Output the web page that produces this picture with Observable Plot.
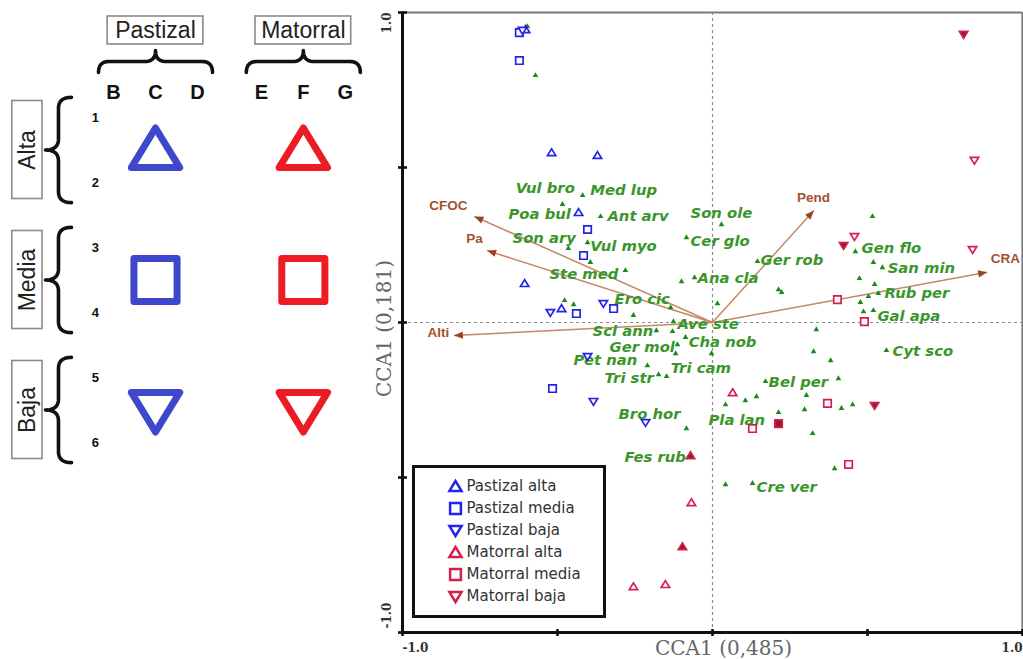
<!DOCTYPE html>
<html><head><meta charset="utf-8">
<script src="https://cdn.jsdelivr.net/npm/d3@7"></script>
<script src="https://cdn.jsdelivr.net/npm/@observablehq/plot@0.6"></script>
<style>
html,body{margin:0;padding:0;background:#fff;}
#wrap{position:relative;width:1023px;height:659px;overflow:hidden;}
#wrap > div, #wrap > svg{position:absolute;left:0;top:0;}
#legend{left:412px !important;top:465px !important;width:194px;height:153px;border:3px solid #111;box-sizing:border-box;background:#fff;}
</style></head><body><div id="wrap"></div>
<script>
// ---------- DATA ----------
// Left schematic
const habitats = ["Pastizal", "Matorral"];
const habitatColumns = [["B", "C", "D"], ["E", "F", "G"]];
const altitudes = ["Alta", "Media", "Baja"];
const altitudeRows = [[1, 2], [3, 4], [5, 6]];

// Sites (CCA1, CCA2); third value 1 = symbol drawn filled
const pastizalAlta = [[-0.519,0.548],[-0.371,0.539],[-0.606,0.126],[-0.487,0.045],[-0.432,0.355],[-0.603,0.945]];
const pastizalMedia = [[-0.623,0.935],[-0.623,0.845],[-0.403,0.300],[-0.416,0.216],[-0.439,0.029],[-0.319,0.045],[-0.516,-0.213]];
const pastizalBaja = [[-0.613,0.942],[-0.523,0.032],[-0.352,0.061],[-0.403,-0.110],[-0.384,-0.255],[-0.216,-0.323]];
const matorralAlta = [[-0.071,-0.429,1],[-0.068,-0.581],[-0.097,-0.723,1],[-0.255,-0.852],[-0.152,-0.845],[0.065,-0.226]];
const matorralMedia = [[0.403,0.074],[0.490,0.003],[0.371,-0.261],[0.213,-0.326,1],[0.129,-0.342],[0.439,-0.458]];
const matorralBaja = [[0.810,0.929,1],[0.845,0.523],[0.839,0.235],[0.458,0.277],[0.423,0.248,1],[0.523,-0.268,1]];

// Species scores
const speciesPoints = [[-0.597,0.955],[-0.571,0.797],[-0.484,0.381],[-0.419,0.410],[-0.361,0.342],[-0.465,0.239],
 [-0.403,0.258],[-0.394,0.194],[-0.281,0.168],[-0.477,0.071],[-0.448,0.058],[-0.255,0.023],[-0.135,0.048],
 [-0.084,0.274],[0.029,0.316],[-0.100,0.132],[-0.058,0.145],[0.016,0.061],[0.145,0.197],[0.213,0.106],[0.223,0.097],
 [-0.126,0.003],[-0.181,-0.026],[-0.129,-0.029],[-0.113,-0.071],[-0.087,-0.048],[-0.119,-0.100],[-0.003,-0.100],
 [-0.210,-0.139],[-0.174,-0.168],[-0.148,-0.174],[-0.084,-0.342],[0.042,-0.265],[0.042,-0.523],[0.129,-0.519],
 [0.106,-0.252],[0.142,-0.239],[0.171,-0.190],[0.213,-0.290],[0.303,-0.235],[0.297,-0.281],[0.323,-0.358],
 [0.335,-0.023],[0.326,-0.094],[0.381,-0.123],[0.406,-0.181],[0.416,-0.277],[0.452,-0.265],[0.394,-0.471],
 [0.561,-0.090],[0.516,0.342],[0.461,0.229],[0.519,0.194],[0.548,0.177],[0.474,0.142],[0.523,0.123],[0.503,0.084],
 [0.535,0.094],[0.477,0.065],[0.487,0.035],[0.519,0.039],[-0.071,-0.429],[0.213,-0.326],[0.423,0.248]];
const speciesLabels = [["Vul bro",-0.635,0.432],["Med lup",-0.394,0.426],["Poa bul",-0.658,0.348],["Ant arv",-0.339,0.342],
 ["Son ary",-0.645,0.271],["Vul myo",-0.394,0.245],["Ste med",-0.526,0.155],["Ero cic",-0.316,0.074],
 ["Son ole",-0.071,0.352],["Cer glo",-0.071,0.261],["Ger rob",0.155,0.200],["Ana cla",-0.048,0.142],
 ["Ave ste",-0.113,-0.006],["Scl ann",-0.387,-0.029],["Cha nob",-0.077,-0.065],["Ger mol",-0.332,-0.080],
 ["Pet nan",-0.448,-0.123],["Tri cam",-0.135,-0.148],["Tri str",-0.348,-0.181],["Bro hor",-0.303,-0.297],
 ["Pla lan",-0.013,-0.316],["Fes rub",-0.284,-0.435],["Bel per",0.181,-0.194],["Cre ver",0.142,-0.532],
 ["Gen flo",0.481,0.239],["San min",0.565,0.174],["Rub per",0.555,0.094],["Gal apa",0.532,0.019],["Cyt sco",0.581,-0.094]];

// Environmental vectors
const envNames = ["CFOC", "Pa", "Alti", "Pend", "CRA"];
const envX = [-0.768, -0.727, -0.834, 0.327, 0.886];
const envY = [0.342, 0.232, -0.042, 0.361, 0.162];
const envLabelX = [-0.852, -0.768, -0.884, 0.326, 0.945];
const envLabelY = [0.377, 0.271, -0.032, 0.403, 0.206];

// Axes
const axisTicks = [-1, -0.5, 0, 0.5, 1];
const endTicks = [-1, 1];
const endTickLabels = ["-1.0", "1.0"];
const xTitle = "CCA1 (0,485)";
const yTitle = "CCA1 (0,181)";
const legendLabels = ["Pastizal alta", "Pastizal media", "Pastizal baja", "Matorral alta", "Matorral media", "Matorral baja"];

// ---------- STYLE ----------
const blue = "#2323ea", crimson = "#d61e4e", darkFill = "#8e1c2c";
const bigBlue = "#3f48cc", bigRed = "#ed1c24";
const labelGreen = "#3a962a", dotGreen = "#178a17";
const vecLine = "#c48866", vecHead = "#9a4420", vecText = "#a4512f";

// ---------- SYMBOLS ----------
const rad = s => Math.sqrt(s / Math.PI);
const symUp = {draw(c, s){const r = rad(s); c.moveTo(0, -r); c.lineTo(r*1.1, r*0.8); c.lineTo(-r*1.1, r*0.8); c.closePath();}};
const symDown = {draw(c, s){const r = rad(s); c.moveTo(0, r); c.lineTo(r*1.1, -r*0.8); c.lineTo(-r*1.1, -r*0.8); c.closePath();}};
const symSquare = {draw(c, s){const r = rad(s)*0.98; c.rect(-r, -r, 2*r, 2*r);}};
const hTick = {draw(c, s){const r = rad(s); c.moveTo(-r, 0); c.lineTo(r, 0);}};
const vTick = {draw(c, s){const r = rad(s); c.moveTo(0, -r); c.lineTo(0, r);}};
const headSym = ang => ({draw(c){const L = 9, w = 3.6, ux = Math.cos(ang), uy = Math.sin(ang);
  c.moveTo(0, 0); c.lineTo(-L*ux - w*uy, -L*uy + w*ux); c.lineTo(-L*ux + w*uy, -L*uy - w*ux); c.closePath();}});
const symByAlt = {alta: symUp, media: symSquare, baja: symDown};

const wrap = document.getElementById("wrap");

// ---------- MAIN CCA PLOT ----------
const siteGroups = [[pastizalAlta, "Pastizal", "alta"], [pastizalMedia, "Pastizal", "media"], [pastizalBaja, "Pastizal", "baja"],
  [matorralAlta, "Matorral", "alta"], [matorralMedia, "Matorral", "media"], [matorralBaja, "Matorral", "baja"]];
const siteMarks = [];
for (const [arr, hab, alt] of siteGroups) {
  const rows = arr.map(([x, y, f]) => ({x, y, filled: !!f}));
  const col = hab === "Pastizal" ? blue : crimson;
  siteMarks.push(Plot.dot(rows.filter(d => !d.filled), {x: "x", y: "y", symbol: symByAlt[alt], r: 3.8, stroke: col, strokeWidth: 1.7, fill: "white"}));
  siteMarks.push(Plot.dot(rows.filter(d => d.filled), {x: "x", y: "y", symbol: symByAlt[alt], r: 3.8, stroke: col, strokeWidth: 1.7, fill: darkFill}));
}
const vectors = envNames.map((name, i) => ({name, x: envX[i], y: envY[i], lx: envLabelX[i], ly: envLabelY[i]}));
const species = speciesPoints.map(([x, y]) => ({x, y}));
const spLabels = speciesLabels.map(([name, x, y]) => ({name, x, y}));

const serif = "DejaVu Serif";
const main = Plot.plot({
  width: 1023, height: 659,
  marginLeft: 402, marginRight: 1, marginTop: 12, marginBottom: 27,
  x: {domain: [-1, 1], axis: null},
  y: {domain: [-1, 1], axis: null},
  style: {background: "white", overflow: "visible"},
  marks: [
    Plot.ruleX([0], {stroke: "#8c8c8c", strokeWidth: 1.2, strokeDasharray: "3,3"}),
    Plot.ruleY([0], {stroke: "#8c8c8c", strokeWidth: 1.2, strokeDasharray: "3,3"}),
    Plot.ruleY([1], {stroke: "#7a7a7a", strokeWidth: 2.2}),
    Plot.ruleX([1], {stroke: "#7a7a7a", strokeWidth: 2.2}),
    Plot.ruleX([-1], {stroke: "#111", strokeWidth: 3}),
    Plot.ruleY([-1], {stroke: "#111", strokeWidth: 3}),
    Plot.dot(axisTicks, {x: () => -1, y: d => d, symbol: hTick, r: 4.5, stroke: "#111", strokeWidth: 2.6}),
    Plot.dot(axisTicks, {x: d => d, y: () => -1, symbol: vTick, r: 3.5, stroke: "#111", strokeWidth: 2.6}),
    Plot.text([endTicks[1]], {x: () => -1, y: d => d, text: () => endTickLabels[1], rotate: -90, textAnchor: "end", dx: -15, fontFamily: serif, fontWeight: "bold", fontSize: 12, fill: "#333"}),
    Plot.text([endTicks[0]], {x: () => -1, y: d => d, text: () => endTickLabels[0], rotate: -90, textAnchor: "start", dx: -15, dy: -4, fontFamily: serif, fontWeight: "bold", fontSize: 12, fill: "#333"}),
    Plot.text([endTicks[0]], {x: d => d, y: () => -1, text: () => endTickLabels[0], textAnchor: "start", dy: 16, fontFamily: serif, fontWeight: "bold", fontSize: 12, fill: "#333"}),
    Plot.text([endTicks[1]], {x: d => d, y: () => -1, text: () => endTickLabels[1], textAnchor: "end", dy: 16, fontFamily: serif, fontWeight: "bold", fontSize: 12, fill: "#333"}),
    Plot.text([xTitle], {frameAnchor: "bottom", text: d => d, textAnchor: "middle", lineAnchor: "middle", dx: 11, dy: 16, fontFamily: serif, fontSize: 20, fill: "#666"}),
    Plot.text([yTitle], {frameAnchor: "left", text: d => d, textAnchor: "middle", lineAnchor: "middle", rotate: -90, dx: -18, dy: 6, fontFamily: serif, fontSize: 20, fill: "#666"}),
    Plot.link(vectors, {x1: () => 0, y1: () => 0, x2: "x", y2: "y", stroke: vecLine, strokeWidth: 1.5}),
    Plot.dot(species, {x: "x", y: "y", symbol: "triangle", r: 2.1, fill: dotGreen}),
    Plot.text(spLabels, {x: "x", y: "y", text: "name", textAnchor: "start", fontFamily: "DejaVu Sans", fontWeight: "bold", fontStyle: "italic", fontSize: 14.8, fill: labelGreen}),
    ...siteMarks,
    ...vectors.map(v => Plot.dot([v], {x: "x", y: "y", symbol: headSym(Math.atan2(-v.y, v.x)), r: 1, fill: vecHead})),
    Plot.text(vectors, {x: "lx", y: "ly", text: "name", fontFamily: "Liberation Sans", fontWeight: "bold", fontSize: 13.5, fill: vecText})
  ]
});
wrap.appendChild(main);

// ---------- LEFT SCHEMATIC ----------
const colPos = (h, i) => i + h * 3.52;
const headerRows = habitats.map((name, h) => ({name, x: colPos(h, 1)}));
const colRows = habitatColumns.flatMap((cols, h) => cols.map((c, i) => ({name: c, x: colPos(h, i)})));
const altRows = altitudes.map((name, a) => ({name, mid: (altitudeRows[a][0] + altitudeRows[a][1]) / 2}));
const rowNums = altitudeRows.flat();

function bracePts(a0, a1, base, tip, rr) {
  const m = (base + tip) / 2, c = (a0 + a1) / 2, pts = [];
  const q = (p0, p1, p2) => { for (let i = 0; i <= 12; i++) { const t = i / 12, u = 1 - t;
    pts.push([u*u*p0[0] + 2*u*t*p1[0] + t*t*p2[0], u*u*p0[1] + 2*u*t*p1[1] + t*t*p2[1]]); } };
  q([a0, base], [a0, m], [a0 + rr, m]);
  q([c - rr, m], [c, m], [c, tip]);
  q([c, tip], [c, m], [c + rr, m]);
  q([a1 - rr, m], [a1, m], [a1, base]);
  return pts;
}
const braces = [];
headerRows.forEach((d, k) => bracePts(d.x - 1.357, d.x + 1.357, 0.308, -0.031, 0.25).forEach(([a, p]) => braces.push({id: "h" + k, x: a, y: p})));
altRows.forEach((d, k) => bracePts(d.mid - 0.81, d.mid + 0.81, -1.0, -1.62, 0.17).forEach(([a, p]) => braces.push({id: "v" + k, x: p, y: a})));

const bigSymbols = [];
habitats.forEach((hname, h) => altRows.forEach((ar, a) => bigSymbols.push({x: colPos(h, 1), y: ar.mid, h, a})));
const altKeys = ["alta", "media", "baja"];
const sans = "Liberation Sans";

const left = Plot.plot({
  width: 370, height: 659, margin: 0,
  x: {domain: [0, 1], range: [113, 155], axis: null},
  y: {domain: [1, 2], range: [117, 182], axis: null},
  style: {background: "transparent", overflow: "visible"},
  marks: [
    Plot.rect(headerRows, {x1: d => d.x - 1.14, x2: d => d.x + 1.14, y1: -0.554, y2: -0.123, fill: "white", stroke: "#8a8a8a", strokeWidth: 1.6}),
    Plot.text(headerRows, {x: "x", y: () => -0.338, text: "name", fontFamily: sans, fontSize: 23, fill: "#222"}),
    Plot.rect(altRows, {x1: () => -2.41, x2: () => -1.69, y1: d => d.mid - 0.754, y2: d => d.mid + 0.754, fill: "white", stroke: "#8a8a8a", strokeWidth: 1.6}),
    Plot.text(altRows, {x: () => -2.05, y: "mid", text: "name", rotate: -90, fontFamily: sans, fontSize: 23, fill: "#222"}),
    Plot.line(braces, {x: "x", y: "y", z: "id", stroke: "#111", strokeWidth: 3.6, strokeLinecap: "round", strokeLinejoin: "round"}),
    Plot.text(colRows, {x: "x", y: () => 0.615, text: "name", fontFamily: sans, fontWeight: "bold", fontSize: 20, fill: "#111"}),
    Plot.text(rowNums, {x: () => -0.43, y: d => d, text: d => String(d), fontFamily: sans, fontWeight: "bold", fontSize: 13, fill: "#111"}),
    ...altKeys.map((k, a) => Plot.dot(bigSymbols.filter(d => d.a === a), {x: "x", y: "y", symbol: symByAlt[k], r: 22, fill: "none", stroke: d => d.h === 0 ? bigBlue : bigRed, strokeWidth: 7, strokeLinejoin: "round"}))
  ]
});
wrap.appendChild(left);

// ---------- LEGEND ----------
const legendRows = legendLabels.map((label, i) => ({label, hab: i < 3 ? 0 : 1, alt: altKeys[i % 3]}));
const legendDiv = document.createElement("div");
legendDiv.id = "legend";
const legend = Plot.plot({
  width: 188, height: 147, margin: 0,
  x: {domain: [0, 1], range: [40, 51], axis: null},
  y: {type: "point", domain: legendLabels, range: [18, 128], padding: 0, axis: null},
  style: {background: "white", overflow: "visible"},
  marks: [
    ...altKeys.map(k => Plot.dot(legendRows.filter(d => d.alt === k), {x: () => 0, y: "label", symbol: symByAlt[k], r: 5.5, fill: "none", stroke: d => d.hab === 0 ? blue : crimson, strokeWidth: 2.5})),
    Plot.text(legendRows, {x: () => 1, y: "label", text: "label", textAnchor: "start", fontFamily: "DejaVu Sans", fontSize: 15, fill: "#333"})
  ]
});
legendDiv.appendChild(legend);
wrap.appendChild(legendDiv);
</script></body></html>
